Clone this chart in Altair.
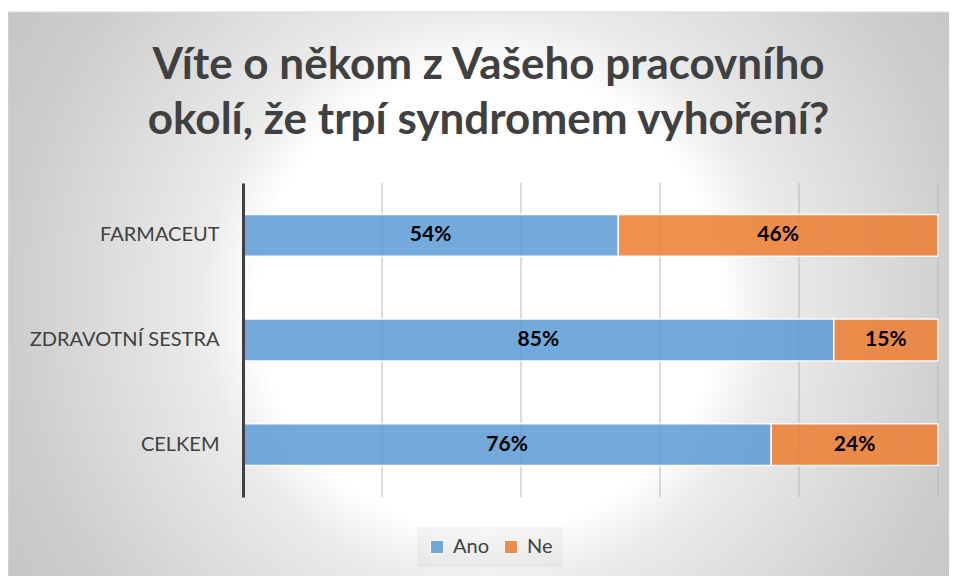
import altair as alt
import pandas as pd

categories = ["FARMACEUT", "ZDRAVOTNÍ SESTRA", "CELKEM"]
ano = [54, 85, 76]
ne = [46, 15, 24]
series = ["Ano", "Ne"]
colors = ["#5B9BD5", "#ED7D31"]
title_lines = ["Víte o někom z Vašeho pracovního", "okolí, že trpí syndromem vyhoření?"]
grid_ticks = [0.2, 0.4, 0.6, 0.8, 1.0]

rows = []
for c, a, n in zip(categories, ano, ne):
    rows.append({"cat": c, "series": "Ano", "value": a, "order": 0})
    rows.append({"cat": c, "series": "Ne", "value": n, "order": 1})
df = pd.DataFrame(rows)

W, H = 695, 314

gradient = {
    "gradient": "radial",
    "x1": 0.5, "y1": 0.5, "r1": 0,
    "x2": 0.5, "y2": 0.5, "r2": 0.6,
    "stops": [
        {"offset": 0.0, "color": "#ffffff"},
        {"offset": 0.40, "color": "#ffffff"},
        {"offset": 0.50, "color": "#ebebeb"},
        {"offset": 0.83, "color": "#cdcdcd"},
        {"offset": 1.0, "color": "#c4c4c4"},
    ],
}

bg = alt.Chart(pd.DataFrame({"a": [0]})).mark_rect(
    fill=gradient, stroke="#d9d9d9", strokeWidth=1
).encode(
    x=alt.value(-235), x2=alt.value(726), y=alt.value(-171), y2=alt.value(405)
)

x_scale = alt.Scale(domain=[0, 1])

grid = alt.Chart(pd.DataFrame({"t": grid_ticks})).mark_rule(
    color="#b8b8b8", strokeWidth=1
).encode(x=alt.X("t:Q", scale=x_scale, axis=None))

base = alt.Chart(df).transform_stack(
    stack="value", groupby=["cat"], as_=["v0", "v1"], offset="normalize",
    sort=[alt.SortField("order")]
).transform_calculate(
    mid="(datum.v0 + datum.v1) / 2", label="datum.value + '%'"
)

y_enc = alt.Y(
    "cat:N", sort=categories, title=None,
    scale=alt.Scale(paddingInner=0.6, paddingOuter=0.3),
    axis=alt.Axis(
        domainColor="#404040", domainWidth=3, ticks=False, tickSize=0,
        labelPadding=24, labelFont="Lato", labelFontSize=20, labelLimit=400,
        labelColor="#404040", grid=False, zindex=1,
    ),
)

bars = base.mark_bar(opacity=0.85, stroke="white", strokeWidth=1.5).encode(
    x=alt.X("v0:Q", scale=x_scale, axis=None),
    x2="v1:Q",
    y=y_enc,
    color=alt.Color(
        "series:N",
        scale=alt.Scale(domain=series, range=colors),
        legend=alt.Legend(
            title=None, orient="none", legendX=174, legendY=344,
            direction="horizontal", symbolType="square", symbolSize=169,
            symbolOpacity=0.85, symbolStrokeColor="white", symbolStrokeWidth=1,
            labelFont="Lato", labelFontSize=20, labelColor="#404040",
            labelOffset=6, columnPadding=12, padding=10,
            fillColor="rgba(0,0,0,0.035)",
        ),
    ),
)

texts = base.mark_text(
    font="Lato", fontSize=21, fontWeight="bold", color="#000000"
).encode(
    x=alt.X("mid:Q", scale=x_scale, axis=None),
    y=alt.Y("cat:N", sort=categories),
    text="label:N",
)

chart = alt.layer(bg, grid, bars, texts).properties(
    width=W, height=H,
    autosize=alt.AutoSizeParams(type="none"),
    padding={"left": 235, "top": 175, "right": 11, "bottom": 79},
    title=alt.TitleParams(
        text=title_lines, font="Lato", fontSize=44, fontWeight="bold",
        color="#404040", lineHeight=55, anchor="middle", frame="group",
        dx=-102, dy=131, offset=0,
    ),
).configure_view(stroke=None)

chart.save("out.html", embed_options={"renderer": "svg", "actions": False})
